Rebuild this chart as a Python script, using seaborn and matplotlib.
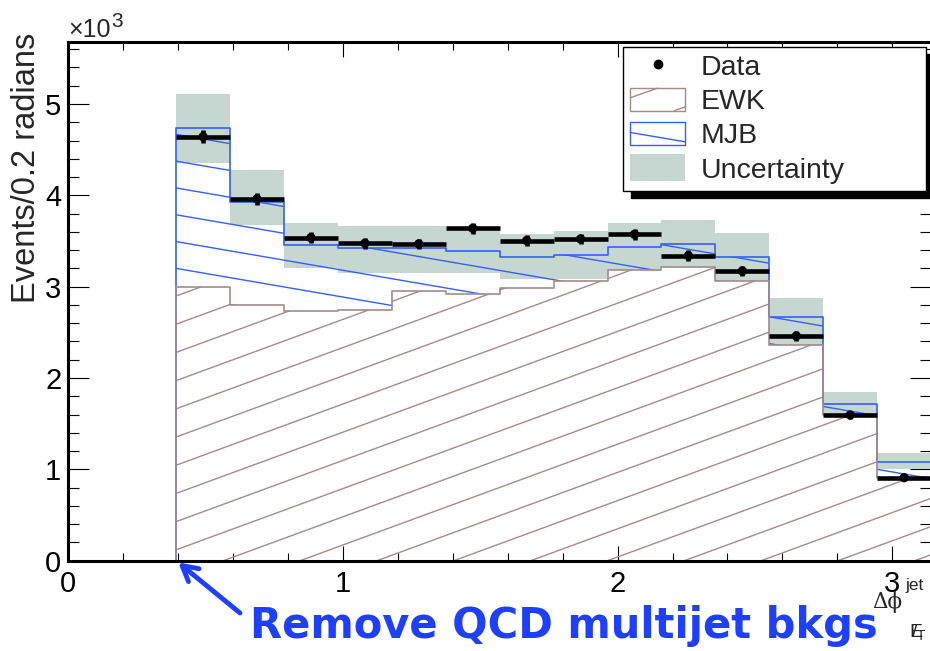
import numpy as np
import pandas as pd
import matplotlib
matplotlib.use("Agg")
import matplotlib.pyplot as plt
import seaborn as sns
from matplotlib.legend_handler import HandlerBase
from matplotlib.patches import Rectangle
from matplotlib.lines import Line2D
from matplotlib.collections import LineCollection
from matplotlib.transforms import IdentityTransform
from matplotlib.ticker import MultipleLocator, FuncFormatter

# ---------------- data (events per pi/16 bin) ----------------
n_bins = 16
bin_edges = np.linspace(0.0, np.pi, n_bins + 1)
bin_centers = 0.5 * (bin_edges[:-1] + bin_edges[1:])

ewk = [0, 0, 3000, 2796, 2737, 2745, 2956, 2918, 2982, 3062, 3183, 3212, 3066, 2362, 1600, 902]
mjb = [0, 0, 1734, 1134, 719, 675, 464, 476, 346, 285, 255, 252, 262, 309, 116, 182]
data = [np.nan, np.nan, 4642, 3960, 3536, 3475, 3468, 3639, 3505, 3522, 3573, 3339, 3172, 2460, 1595, 909]
data_err = [0, 0, 68, 63, 59, 59, 59, 60, 59, 59, 60, 58, 56, 50, 40, 30]
unc_lo = [0, 0, 4358, 3675, 3201, 3153, 3153, 3147, 3081, 3081, 3183, 3212, 3066, 2362, 1595, 1001]
unc_hi = [0, 0, 5106, 4274, 3694, 3664, 3664, 3657, 3573, 3610, 3700, 3730, 3591, 2873, 1850, 1176]

x_ticks = [0, 1, 2, 3]
y_max = 5675

EWK_C = "#a68a8a"
MJB_C = "#3260ff"
UNC_C = "#c6d6d0"
NOTE_C = "#1f3fff"

# ---------------- style ----------------
sns.set_theme(style="ticks")
plt.rcParams["font.family"] = ["Liberation Sans", "DejaVu Sans"]
plt.rcParams["mathtext.fontset"] = "custom"
plt.rcParams["mathtext.rm"] = "Liberation Sans"
plt.rcParams["mathtext.it"] = "Liberation Sans"

fig = plt.figure(figsize=(9.3, 6.51), dpi=100)
ax = fig.add_axes([0.0734, 0.1387, 0.9278, 0.7963])
H = 651

ewk_a = np.array(ewk, float)
tot_a = ewk_a + np.array(mjb, float)
widths = np.diff(bin_edges)
df = pd.DataFrame({"center": bin_centers, "ewk": ewk_a, "total": tot_a})
bins_list = [float(b) for b in bin_edges]

# uncertainty band
lo_a = np.array(unc_lo, float)
hi_a = np.array(unc_hi, float)
ax.bar(bin_edges[:-1], hi_a - lo_a, bottom=lo_a, width=widths, align="edge",
       color=UNC_C, linewidth=0, zorder=1)

# clip regions for hatch patterns
ewk_region = ax.stairs(ewk_a, bin_edges, baseline=0, fill=True,
                       facecolor="none", edgecolor="none", linewidth=0)
mjb_region = ax.stairs(tot_a, bin_edges, baseline=ewk_a, fill=True,
                       facecolor="none", edgecolor="none", linewidth=0)


def hatch(region, slope, spacing, anchor, color, lw):
    bb = ax.bbox
    segs = []
    for k in range(-80, 81):
        ya = anchor[1] + slope * (bb.x0 - anchor[0]) + k * spacing
        yb = anchor[1] + slope * (bb.x1 - anchor[0]) + k * spacing
        segs.append([(bb.x0, ya), (bb.x1, yb)])
    lc = LineCollection(segs, colors=color, linewidths=lw,
                        transform=IdentityTransform(), zorder=2)
    ax.add_collection(lc, autolim=False)
    lc.set_clip_path(region)


hatch(ewk_region, 0.367, 28.2, (223.3, H - 560.7), EWK_C, 1.0)
hatch(mjb_region, -0.172, 26.8, (175.7, H - 268.3), MJB_C, 1.0)

# histogram outlines via seaborn
sns.histplot(data=df, x="center", weights="total", bins=bins_list, element="step",
             fill=False, color=MJB_C, linewidth=1.2, ax=ax, zorder=3)
sns.histplot(data=df, x="center", weights="ewk", bins=bins_list, element="step",
             fill=False, color=EWK_C, linewidth=1.2, ax=ax, zorder=3)

# data points
d_a = np.array(data, float)
ax.errorbar(bin_centers, d_a, xerr=widths / 2, yerr=data_err, fmt="none",
            ecolor="black", elinewidth=3.3, capsize=0, zorder=5)
sns.scatterplot(x=bin_centers, y=d_a, color="black", s=45, marker="o",
                edgecolor="none", ax=ax, zorder=6, legend=False)

# axes
ax.set_xlim(0, np.pi)
ax.set_ylim(0, y_max)
ax.xaxis.set_major_locator(MultipleLocator(1))
ax.xaxis.set_minor_locator(MultipleLocator(0.2))
ax.yaxis.set_major_locator(MultipleLocator(1000))
ax.yaxis.set_minor_locator(MultipleLocator(200))
ax.set_xticks(x_ticks)
ax.xaxis.set_major_formatter(FuncFormatter(lambda v, p: f"{v:g}"))
ax.yaxis.set_major_formatter(FuncFormatter(lambda v, p: f"{v/1000:g}"))
for s in ax.spines.values():
    s.set_linewidth(2.2)
    s.set_color("black")
    s.set_zorder(10)
ax.tick_params(which="both", direction="in", top=True, right=True,
               labelsize=21, colors="black", width=0.8)
ax.tick_params(axis="x", which="major", length=11, pad=7)
ax.tick_params(axis="x", which="minor", length=6)
ax.tick_params(axis="y", which="major", length=15, pad=5)
ax.tick_params(axis="y", which="minor", length=8)
ax.set_xlabel("")
ax.set_ylabel("Events/0.2 radians", fontsize=23.5, loc="top")
ax.yaxis.set_label_coords(-0.0305, 1.018)

# x10^3 multiplier
fig.text(68 / 930, 1 - 37 / 651, "\u00d710", fontsize=18, ha="left", va="baseline")
fig.text(111 / 930, 1 - 27 / 651, "3", fontsize=15, ha="left", va="baseline")

# x-axis title (partly cut off at the right edge, as in the original)
fig.text(872 / 930, 1 - 608 / 651, "\u0394\u03d5", fontsize=15.5,
         family=["DejaVu Serif"], ha="left", va="baseline")
fig.text(905 / 930, 1 - 590 / 651, "jet", fontsize=12.5, ha="left", va="baseline")
fig.text(909 / 930, 1 - 637 / 651, r"$\mathrm{E}\!\!\!\!/_{\mathrm{T}}$", fontsize=14,
         ha="left", va="baseline")


# ---------------- legend ----------------
class HatchBox(HandlerBase):
    def __init__(self, color, slope, spacing, phase):
        super().__init__()
        self.color, self.slope, self.spacing, self.phase = color, slope, spacing, phase

    def create_artists(self, legend, orig_handle, xdescent, ydescent,
                       width, height, fontsize, trans):
        x0, y0 = -xdescent, -ydescent
        arts = [Rectangle((x0, y0), width, height, facecolor="none",
                          edgecolor=self.color, lw=1.0, transform=trans)]
        for k in range(-6, 7):
            a = y0 + self.phase * height + k * self.spacing
            xa = x0 + (y0 - a) / self.slope
            xb = x0 + (y0 + height - a) / self.slope
            lo, hi = min(xa, xb), max(xa, xb)
            lo, hi = max(lo, x0), min(hi, x0 + width)
            if hi > lo:
                arts.append(Line2D([lo, hi],
                                   [a + self.slope * (lo - x0), a + self.slope * (hi - x0)],
                                   color=self.color, lw=1.0, transform=trans))
        return arts


class FillBox(HandlerBase):
    def create_artists(self, legend, orig_handle, xdescent, ydescent,
                       width, height, fontsize, trans):
        return [Rectangle((-xdescent, -ydescent - 0.1 * height), width, height * 1.2,
                          facecolor=UNC_C, edgecolor="none", transform=trans)]


h_data = Line2D([], [], marker="o", color="black", ls="none", ms=6)
h_ewk = Rectangle((0, 0), 1, 1)
h_mjb = Rectangle((0, 0), 1, 1)
h_unc = Rectangle((0, 0), 1, 1)
leg = ax.legend([h_data, h_ewk, h_mjb, h_unc], ["Data", "EWK", "MJB", "Uncertainty"],
                handler_map={h_ewk: HatchBox(EWK_C, 0.35, 20.4, 0.57),
                             h_mjb: HatchBox(MJB_C, -0.17, 19.3, 0.55),
                             h_unc: FillBox()},
                loc="upper left", bbox_to_anchor=(0.643, 0.718, 0.351, 0.2735),
                mode="expand", borderaxespad=0, fontsize=20.5, frameon=True,
                fancybox=False, edgecolor="black", framealpha=1,
                handlelength=1.93, handleheight=0.84, handletextpad=0.55,
                borderpad=0.25, labelspacing=0.25,
                shadow={"ox": 6, "oy": -5, "facecolor": "black",
                        "edgecolor": "black", "alpha": 1})
leg.get_frame().set_linewidth(1.0)
leg.set_zorder(20)

# ---------------- annotation ----------------
ax.annotate("", xy=(bin_edges[2], 0), xycoords="data",
            xytext=(240, H - 613), textcoords="figure pixels",
            arrowprops=dict(arrowstyle="->,head_length=0.9,head_width=0.5",
                            color=NOTE_C, lw=3.5, shrinkA=0, shrinkB=2),
            annotation_clip=False, zorder=30)
fig.text(250 / 930, 1 - 638 / 651, "Remove QCD multijet bkgs", color=NOTE_C,
         fontsize=30, fontweight="bold", family=["DejaVu Sans"],
         ha="left", va="baseline")

fig.savefig("out.png", dpi=100)
